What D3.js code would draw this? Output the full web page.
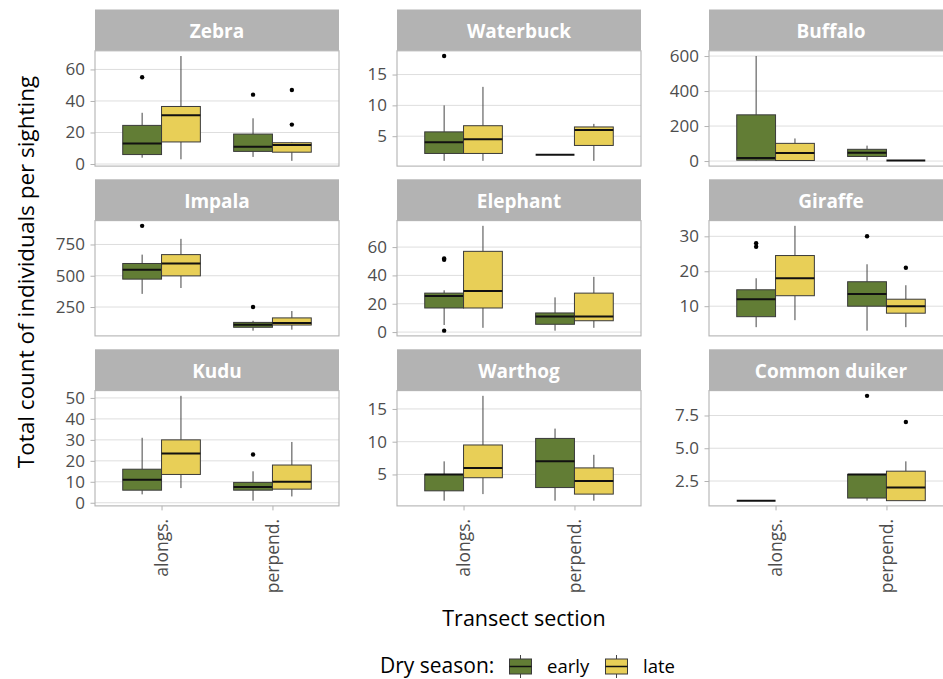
<!DOCTYPE html>
<html>
<head>
<meta charset="utf-8">
<script src="https://cdn.jsdelivr.net/npm/d3@7"></script>
<style>
  body { margin: 0; background: #fff; }
  svg { display: block; font-family: "Open Sans", "Noto Sans", sans-serif; }
</style>
</head>
<body>
<div id="chart"></div>
<script>
// categories
var sections = [ "alongs.", "perpend." ];
var seasons = [ "early", "late" ];
var species = [ "Zebra", "Waterbuck", "Buffalo", "Impala", "Elephant", "Giraffe", "Kudu", "Warthog", "Common duiker" ];

// box stats per species:
// section, season, lower whisker, q1, median, q3, upper whisker, outliers
var zebra = [
  [ "alongs.", "early", 4, 6, 13, 24.5, 32.5, [ 55 ] ],
  [ "alongs.", "late", 3, 14, 31, 36.5, 68.5, [] ],
  [ "perpend.", "early", 4.5, 8, 11, 19, 29, [ 44 ] ],
  [ "perpend.", "late", 2, 7.5, 12, 13.5, 14, [ 25, 47 ] ]
];
var waterbuck = [
  [ "alongs.", "early", 1, 2.2, 4, 5.7, 10, [ 18 ] ],
  [ "alongs.", "late", 1, 2.2, 4.5, 6.7, 13, [] ],
  [ "perpend.", "early", 2, 2, 2, 2, 2, [] ],
  [ "perpend.", "late", 1, 3.5, 6, 6.5, 7, [] ]
];
var buffalo = [
  [ "alongs.", "early", 2, 5, 17, 264, 600, [] ],
  [ "alongs.", "late", 1, 3, 46, 101, 129, [] ],
  [ "perpend.", "early", 4, 26, 47, 67, 88, [] ],
  [ "perpend.", "late", 3, 3, 3, 3, 3, [] ]
];
var impala = [
  [ "alongs.", "early", 355, 473, 548, 598, 669, [ 899 ] ],
  [ "alongs.", "late", 402, 499, 598, 669, 795, [] ],
  [ "perpend.", "early", 61, 88, 108, 127, 140, [ 250 ] ],
  [ "perpend.", "late", 69, 106, 122, 163, 218, [] ]
];
var elephant = [
  [ "alongs.", "early", 5, 17, 25.5, 27.5, 29.5, [ 1, 51, 52 ] ],
  [ "alongs.", "late", 3, 17, 29, 57, 75, [] ],
  [ "perpend.", "early", 1, 5.5, 11, 13.5, 24.5, [] ],
  [ "perpend.", "late", 3, 8, 11, 27.5, 39, [] ]
];
var giraffe = [
  [ "alongs.", "early", 4, 7, 12, 14.7, 18, [ 27, 28 ] ],
  [ "alongs.", "late", 6, 13, 18, 24.5, 33, [] ],
  [ "perpend.", "early", 3, 10, 13.5, 17, 22, [ 30 ] ],
  [ "perpend.", "late", 4, 8, 10, 12, 16, [ 21 ] ]
];
var kudu = [
  [ "alongs.", "early", 4, 6, 11, 16, 31, [] ],
  [ "alongs.", "late", 7, 13.5, 23.5, 30, 51, [] ],
  [ "perpend.", "early", 1, 6, 7.5, 9.7, 15, [ 23 ] ],
  [ "perpend.", "late", 3, 6.5, 10, 18, 29, [] ]
];
var warthog = [
  [ "alongs.", "early", 1, 2.5, 5, 5, 7, [] ],
  [ "alongs.", "late", 2, 4.5, 6, 9.5, 17, [] ],
  [ "perpend.", "early", 1, 3, 7, 10.5, 12, [] ],
  [ "perpend.", "late", 1, 2, 4, 6, 8, [] ]
];
var duiker = [
  [ "alongs.", "early", 1, 1, 1, 1, 1, [] ],
  [ "perpend.", "early", 1, 1.2, 3, 3, 3, [ 9 ] ],
  [ "perpend.", "late", 1, 1, 2, 3.25, 4, [ 7 ] ]
];

// y tick labels per panel
var ticksZebra = [ 0, 20, 40, 60 ];
var ticksWaterbuck = [ 5, 10, 15 ];
var ticksBuffalo = [ 0, 200, 400, 600 ];
var ticksImpala = [ 250, 500, 750 ];
var ticksElephant = [ 0, 20, 40, 60 ];
var ticksGiraffe = [ 10, 20, 30 ];
var ticksKudu = [ 0, 10, 20, 30, 40, 50 ];
var ticksWarthog = [ 5, 10, 15 ];
var ticksDuiker = [ 2.5, 5.0, 7.5 ];

var boxData = [ zebra, waterbuck, buffalo, impala, elephant, giraffe, kudu, warthog, duiker ];
var tickData = [ ticksZebra, ticksWaterbuck, ticksBuffalo, ticksImpala, ticksElephant,
                 ticksGiraffe, ticksKudu, ticksWarthog, ticksDuiker ];

// layout
var width = 943, height = 679;
var colX = [ 95, 397, 709 ],
    rowY = [ 9.5, 179.3, 349.3 ],
    panelW = 244, stripH = 41.3, panelH = 115.3;

var fill = d3.scaleOrdinal().domain( seasons ).range( [ "#627d35", "#e8cf57" ] );

var svg = d3.select( "#chart" ).append( "svg" )
    .attr( "width", width )
    .attr( "height", height );

var x = d3.scalePoint().domain( sections ).range( [ 0, panelW ] ).padding( 0.6 );
var boxW = x.step() * 0.7 / 2;

species.forEach( function( name, i ){
  var col = i % 3, row = Math.floor( i / 3 );
  var rows = boxData[ i ];
  var g = svg.append( "g" )
      .attr( "transform", "translate(" + colX[ col ] + "," + rowY[ row ] + ")" );

  // strip
  g.append( "rect" )
      .attr( "width", panelW ).attr( "height", stripH )
      .attr( "fill", "#b3b3b3" );
  g.append( "text" )
      .attr( "x", panelW / 2 ).attr( "y", stripH / 2 + 1 )
      .attr( "text-anchor", "middle" )
      .attr( "dominant-baseline", "central" )
      .attr( "fill", "#fff" )
      .style( "font-size", "19px" ).style( "font-weight", "bold" )
      .text( name );

  var p = g.append( "g" ).attr( "transform", "translate(0," + stripH + ")" );
  p.append( "rect" ).attr( "width", panelW ).attr( "height", panelH ).attr( "fill", "#fff" );

  // y scale with ggplot style 5% expansion
  var vals = [];
  rows.forEach( function( r ){ vals.push( r[ 2 ], r[ 6 ] ); r[ 7 ].forEach( function( v ){ vals.push( v ); } ); } );
  var lo = d3.min( vals ), hi = d3.max( vals ), pad = ( hi - lo ) * 0.05;
  var y = d3.scaleLinear().domain( [ lo - pad, hi + pad ] ).range( [ panelH, 0 ] );
  var ticks = tickData[ i ];

  // grid
  p.selectAll( ".grid" ).data( ticks ).enter().append( "line" )
      .attr( "x1", 0 ).attr( "x2", panelW )
      .attr( "y1", function( d ){ return y( d ); } )
      .attr( "y2", function( d ){ return y( d ); } )
      .attr( "stroke", "#dedede" ).attr( "stroke-width", 1 );

  // y axis
  var fmt = name === "Common duiker" ? d3.format( ".1f" ) : d3.format( "d" );
  var ya = p.append( "g" )
      .call( d3.axisLeft( y ).tickValues( ticks ).tickFormat( fmt ).tickSize( 4.5 ).tickPadding( 5.5 ) );
  ya.select( ".domain" ).remove();
  ya.selectAll( "line" ).attr( "stroke", "#b3b3b3" );
  ya.selectAll( "text" ).attr( "fill", "#4d4d4d" )
      .style( "font-size", "17px" ).style( "font-family", "'Open Sans', sans-serif" );

  // boxes
  var b = p.selectAll( ".box" ).data( rows ).enter().append( "g" )
      .attr( "transform", function( d ){
        var cx = x( d[ 0 ] ) + ( d[ 1 ] === "early" ? -boxW / 2 : boxW / 2 );
        return "translate(" + cx + ",0)";
      } );
  b.append( "line" )
      .attr( "y1", function( d ){ return y( d[ 2 ] ); } )
      .attr( "y2", function( d ){ return y( d[ 3 ] ); } )
      .attr( "stroke", "#444" );
  b.append( "line" )
      .attr( "y1", function( d ){ return y( d[ 5 ] ); } )
      .attr( "y2", function( d ){ return y( d[ 6 ] ); } )
      .attr( "stroke", "#444" );
  b.append( "rect" )
      .attr( "x", -boxW / 2 ).attr( "width", boxW )
      .attr( "y", function( d ){ return y( d[ 5 ] ); } )
      .attr( "height", function( d ){ return y( d[ 3 ] ) - y( d[ 5 ] ); } )
      .attr( "fill", function( d ){ return fill( d[ 1 ] ); } )
      .attr( "stroke", "#3a3a3a" ).attr( "stroke-width", 1 );
  b.append( "line" )
      .attr( "x1", -boxW / 2 ).attr( "x2", boxW / 2 )
      .attr( "y1", function( d ){ return y( d[ 4 ] ); } )
      .attr( "y2", function( d ){ return y( d[ 4 ] ); } )
      .attr( "stroke", "#111" ).attr( "stroke-width", 2 );
  b.selectAll( "circle" ).data( function( d ){ return d[ 7 ]; } ).enter().append( "circle" )
      .attr( "cy", function( d ){ return y( d ); } )
      .attr( "r", 2.2 ).attr( "fill", "#000" );

  // border
  p.append( "rect" ).attr( "width", panelW ).attr( "height", panelH )
      .attr( "fill", "none" ).attr( "stroke", "#b3b3b3" ).attr( "stroke-width", 1.1 );

  // x axis only on bottom row
  if( row === 2 ){
    var xa = p.append( "g" )
        .attr( "transform", "translate(0," + panelH + ")" )
        .call( d3.axisBottom( x ).tickSize( 4.5 ) );
    xa.select( ".domain" ).remove();
    xa.selectAll( "line" ).attr( "stroke", "#b3b3b3" );
    xa.selectAll( "text" )
        .attr( "transform", "rotate(-90)" )
        .attr( "x", -13 ).attr( "y", 0 ).attr( "dy", "0.35em" )
        .attr( "text-anchor", "end" )
        .attr( "fill", "#4d4d4d" )
        .style( "font-size", "17.5px" ).style( "font-family", "'Open Sans', sans-serif" );
  }
} );

// axis titles
svg.append( "text" )
    .attr( "x", 524 ).attr( "y", 626 )
    .attr( "text-anchor", "middle" )
    .style( "font-size", "21.5px" )
    .text( "Transect section" );
svg.append( "text" )
    .attr( "transform", "translate(34,272) rotate(-90)" )
    .attr( "text-anchor", "middle" )
    .style( "font-size", "22.5px" )
    .text( "Total count of individuals per sighting" );

// legend
var legend = svg.append( "g" );
legend.append( "text" )
    .attr( "x", 380 ).attr( "y", 673 )
    .style( "font-size", "21px" )
    .text( "Dry season:" );
var keyX = [ 509.5, 605.5 ], labelX = [ 547, 643 ];
seasons.forEach( function( s, i ){
  var k = legend.append( "g" ).attr( "transform", "translate(" + ( keyX[ i ] + 11 ) + ",0)" );
  k.append( "line" ).attr( "y1", 655 ).attr( "y2", 678 ).attr( "stroke", "#444" );
  k.append( "rect" ).attr( "x", -11 ).attr( "width", 22 ).attr( "y", 659 ).attr( "height", 15 )
      .attr( "fill", fill( s ) ).attr( "stroke", "#3a3a3a" );
  k.append( "line" ).attr( "x1", -11 ).attr( "x2", 11 ).attr( "y1", 666.5 ).attr( "y2", 666.5 )
      .attr( "stroke", "#111" ).attr( "stroke-width", 1.5 );
  legend.append( "text" )
      .attr( "x", labelX[ i ] ).attr( "y", 673 )
      .style( "font-size", "18.5px" )
      .text( s );
} );
</script>
</body>
</html>
